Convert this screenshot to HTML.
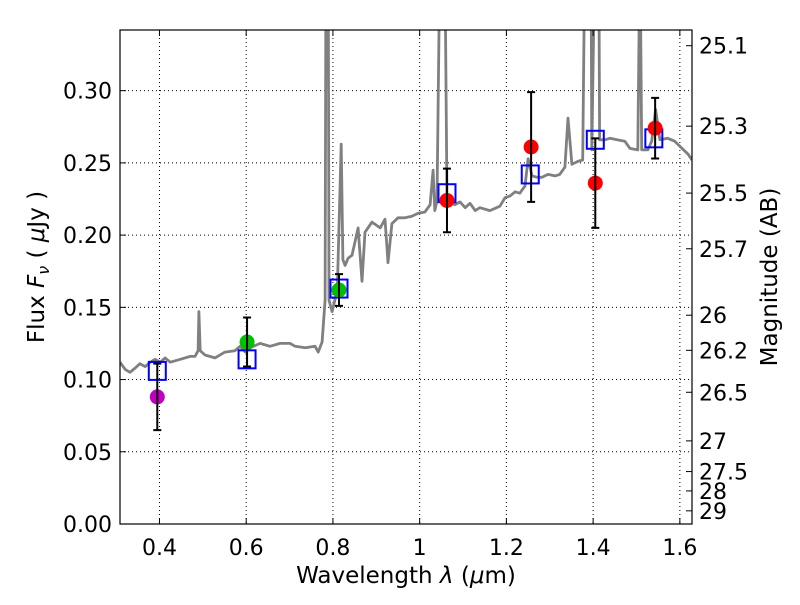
<!DOCTYPE html>
<html><head><meta charset="utf-8"><style>
html,body{margin:0;padding:0;background:#fff;}
svg text{font-family:"DejaVu Sans","Liberation Sans",sans-serif;fill:#000;}
</style></head><body>
<svg id="chart" width="800" height="600" viewBox="0 0 800 600" xmlns="http://www.w3.org/2000/svg">
<rect x="0" y="0" width="800" height="600" fill="#fff"/>
<g id="grid"></g><g id="spec"></g><g id="marks"></g><g id="axes"></g>
</svg>
<script>
const specLam=[0.309,0.321,0.332,0.344,0.355,0.367,0.379,0.390,0.402,0.413,0.425,0.448,0.471,0.482,0.489,0.491,0.494,0.505,0.528,0.551,0.574,0.586,0.598,0.609,0.632,0.655,0.678,0.701,0.713,0.736,0.759,0.766,0.775,0.782,0.784,0.789,0.791,0.798,0.810,0.819,0.823,0.828,0.835,0.844,0.858,0.867,0.874,0.890,0.909,0.920,0.927,0.936,0.950,0.966,0.982,0.996,1.012,1.024,1.031,1.035,1.040,1.047,1.058,1.063,1.081,1.093,1.105,1.116,1.128,1.139,1.162,1.185,1.197,1.208,1.220,1.231,1.243,1.250,1.259,1.271,1.282,1.296,1.312,1.323,1.335,1.342,1.351,1.365,1.376,1.381,1.395,1.397,1.404,1.413,1.415,1.427,1.439,1.455,1.473,1.485,1.503,1.508,1.512,1.526,1.535,1.544,1.554,1.572,1.588,1.605,1.619,1.628];
const specFlux=[0.112,0.107,0.105,0.108,0.111,0.109,0.112,0.114,0.112,0.115,0.112,0.114,0.116,0.116,0.120,0.147,0.120,0.117,0.115,0.119,0.120,0.123,0.119,0.122,0.125,0.123,0.125,0.125,0.123,0.122,0.123,0.119,0.126,0.155,0.40,0.40,0.155,0.147,0.162,0.263,0.183,0.179,0.184,0.186,0.205,0.168,0.202,0.209,0.205,0.211,0.181,0.208,0.212,0.212,0.213,0.215,0.216,0.221,0.245,0.217,0.224,0.40,0.40,0.224,0.221,0.223,0.219,0.222,0.217,0.219,0.217,0.220,0.226,0.227,0.230,0.229,0.234,0.253,0.241,0.240,0.240,0.242,0.241,0.242,0.247,0.281,0.249,0.251,0.252,0.40,0.40,0.259,0.40,0.40,0.266,0.266,0.267,0.266,0.265,0.260,0.259,0.40,0.259,0.259,0.265,0.287,0.266,0.267,0.265,0.260,0.256,0.252];
const obsLam=[0.395,0.602,0.814,1.063,1.257,1.405,1.543];
const obsFlux=[0.088,0.126,0.162,0.224,0.261,0.236,0.274];
const obsErr=[0.023,0.017,0.011,0.022,0.038,0.031,0.021];
const obsColor=["#bf00bf","#00bf00","#00bf00","#ff0000","#ff0000","#ff0000","#ff0000"];
const modelLam=[0.395,0.602,0.814,1.063,1.255,1.405,1.540];
const modelFlux=[0.106,0.114,0.163,0.229,0.242,0.266,0.267];
const xTicks=[0.4,0.6,0.8,1.0,1.2,1.4,1.6];
const xTickLabels=["0.4","0.6","0.8","1","1.2","1.4","1.6"];
const yTicks=[0,0.05,0.10,0.15,0.20,0.25,0.30];
const yTickLabels=["0.00","0.05","0.10","0.15","0.20","0.25","0.30"];
const magTicks=[25.1,25.3,25.5,25.7,26,26.2,26.5,27,27.5,28,29];
const magLabels=["25.1","25.3","25.5","25.7","26","26.2","26.5","27","27.5","28","29"];

const L=120,R=692,T=30,B=524;
const xMin=0.309,xMax=1.628,yMin=0,yMax=0.342;
const xs=v=>L+(v-xMin)/(xMax-xMin)*(R-L);
const ys=v=>B-(v-yMin)/(yMax-yMin)*(B-T);
const NS="http://www.w3.org/2000/svg";
function mk(parent,tag,attrs){const e=document.createElementNS(NS,tag);for(const k in attrs)e.setAttribute(k,attrs[k]);parent.appendChild(e);return e;}
const grid=document.getElementById('grid'),spec=document.getElementById('spec'),marks=document.getElementById('marks'),axes=document.getElementById('axes');

xTicks.forEach((t,i)=>{
  const x=xs(t);
  const g=mk(grid,'line',{x1:x,x2:x,y1:T,y2:B,stroke:'#000','stroke-dasharray':'1,3','stroke-width':1});
  
  
  mk(axes,'line',{x1:x,x2:x,y1:B,y2:B-6,stroke:'#000'});
  mk(axes,'line',{x1:x,x2:x,y1:T,y2:T+6,stroke:'#000'});
  const tx=mk(axes,'text',{x:x,y:B+31,'text-anchor':'middle','font-size':22});
  tx.textContent=xTickLabels[i];
  
  
});
yTicks.forEach((t,i)=>{
  const y=ys(t);
  const g=mk(grid,'line',{x1:L,x2:R,y1:y,y2:y,stroke:'#000','stroke-dasharray':'1,3','stroke-width':1});
  
  
  mk(axes,'line',{x1:L,x2:L+6,y1:y,y2:y,stroke:'#000'});
  const tx=mk(axes,'text',{x:L-8,y:y+8,'text-anchor':'end','font-size':22});
  tx.textContent=yTickLabels[i];
  
  
});
magTicks.forEach((m,i)=>{
  const y=ys(Math.pow(10,(23.9-m)/2.5));
  mk(axes,'line',{x1:R,x2:R-6,y1:y,y2:y,stroke:'#000'});
  const tx=mk(axes,'text',{x:R+7,y:y+8,'text-anchor':'start','font-size':22});
  tx.textContent=magLabels[i];
  
  
});

const pts=specLam.map((l,i)=>xs(l).toFixed(1)+','+ys(specFlux[i]).toFixed(1)).join(' ');
const clip=mk(document.getElementById('chart'),'clipPath',{id:'pc'});
mk(clip,'rect',{x:L,y:T,width:R-L,height:B-T});
const sp=mk(spec,'polyline',{points:pts,fill:'none',stroke:'#808080','stroke-width':2.8,'stroke-linejoin':'round','clip-path':'url(#pc)'});



modelLam.forEach((l,i)=>{
  const x=xs(l),y=ys(modelFlux[i]);
  const r=mk(marks,'rect',{x:x-8.5,y:y-9,width:17,height:18,fill:'none',stroke:'#0000ff','stroke-width':2});
  
  
});
obsLam.forEach((l,i)=>{
  const x=xs(l),y=ys(obsFlux[i]);
  const y1=ys(obsFlux[i]+obsErr[i]),y2=ys(obsFlux[i]-obsErr[i]);
  const c=mk(marks,'circle',{cx:x,cy:y,r:7.5,fill:obsColor[i]});
  
  
  const e=mk(marks,'path',{d:`M${x},${y1}V${y2}M${x-4},${y1}H${x+4}M${x-4},${y2}H${x+4}`,stroke:'#000','stroke-width':2,fill:'none'});
  
  
});

const fr=mk(axes,'rect',{x:L,y:T,width:R-L,height:B-T,fill:'none',stroke:'#000','stroke-width':1.2});


const xl=mk(axes,'text',{x:406,y:583,'text-anchor':'middle','font-size':23});
xl.innerHTML='Wavelength  <tspan font-style="italic">λ</tspan> (<tspan font-style="italic">μ</tspan>m)';


const yl=mk(axes,'text',{x:0,y:0,'text-anchor':'middle','font-size':23,transform:'translate(44,267) rotate(-90)'});
yl.innerHTML='Flux  <tspan font-style="italic">F</tspan><tspan font-style="italic" font-size="16" dy="5">ν</tspan><tspan dy="-5">  ( </tspan><tspan font-style="italic">μ</tspan>Jy )';


const rl=mk(axes,'text',{x:0,y:0,'text-anchor':'middle','font-size':23,transform:'translate(777,277) rotate(-90)'});
rl.textContent='Magnitude (AB)';


</script>
</body></html>
